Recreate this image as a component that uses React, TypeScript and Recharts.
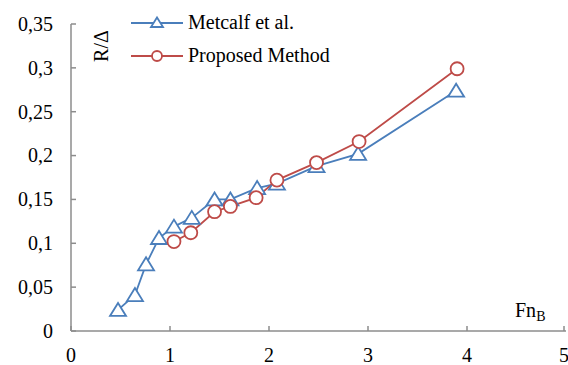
import { LineChart, Line, XAxis, YAxis, Legend } from "recharts";

const metcalfName = "Metcalf et al.";
const proposedName = "Proposed Method";

// Fn_B values and R/Δ values
const metcalfX = [0.475, 0.646, 0.758, 0.889, 1.04, 1.22, 1.45, 1.61, 1.88, 2.08, 2.48, 2.9, 3.89];
const metcalfY = [0.024, 0.041, 0.076, 0.106, 0.119, 0.129, 0.15, 0.15, 0.163, 0.168, 0.188, 0.202, 0.274];
const proposedX = [1.04, 1.21, 1.45, 1.61, 1.87, 2.08, 2.48, 2.91, 3.9];
const proposedY = [0.102, 0.112, 0.136, 0.142, 0.152, 0.172, 0.192, 0.216, 0.299];

const xTicks = [0, 1, 2, 3, 4, 5];
const yTicks = [0, 0.05, 0.1, 0.15, 0.2, 0.25, 0.3, 0.35];

const BLUE = "#4a7ebb";
const RED = "#be4b48";
const AXIS = "#8c8c8c";
const FONT =
  "Tinos, 'Noto Serif', 'Nimbus Roman', 'Nimbus Roman No9 L', FreeSerif, Times, 'DejaVu Serif Condensed', Georgia, serif";

const metcalf = metcalfX.map((x, i) => ({ x, y: metcalfY[i] }));
const proposed = proposedX.map((x, i) => ({ x, y: proposedY[i] }));

function Triangle({ cx, cy, color }: any) {
  if (cx == null || cy == null) return null;
  return (
    <polygon
      points={`${cx},${cy - 7} ${cx - 8},${cy + 6} ${cx + 8},${cy + 6}`}
      fill="#fff"
      stroke={color}
      strokeWidth={1.8}
    />
  );
}

function Circle({ cx, cy, color }: any) {
  if (cx == null || cy == null) return null;
  return <circle cx={cx} cy={cy} r={6.5} fill="#fff" stroke={color} strokeWidth={1.8} />;
}

function YTick({ x, y, payload }: any) {
  return (
    <g>
      <line x1={x + 18} x2={x + 23} y1={y} y2={y} stroke={AXIS} strokeWidth={1.5} />
      <text x={x} y={y} dy="0.34em" textAnchor="end" style={{ fontFamily: FONT }} fontSize={20} fill="#000">
        {String(payload.value).replace(".", ",")}
      </text>
    </g>
  );
}

function XTick({ x, y, payload }: any) {
  return (
    <g>
      <line x1={x} x2={x} y1={y} y2={y - 5} stroke={AXIS} strokeWidth={1.5} />
      <text x={x} y={y + 31} textAnchor="middle" style={{ fontFamily: FONT }} fontSize={20} fill="#000">
        {payload.value}
      </text>
    </g>
  );
}

function LegendBox({ payload }: any) {
  return (
    <div style={{ fontFamily: FONT, fontSize: 20, color: "#000" }}>
      {(payload || []).map((entry: any) => (
        <div key={entry.value} style={{ display: "flex", alignItems: "center", height: 33 }}>
          <svg width={54} height={20}>
            <line x1={0} x2={52} y1={10} y2={10} stroke={entry.color} strokeWidth={1.8} />
            {entry.value === metcalfName ? (
              <polygon points="26,4.5 20,14 32,14" fill="#fff" stroke={entry.color} strokeWidth={1.8} />
            ) : (
              <circle cx={26} cy={10} r={5} fill="#fff" stroke={entry.color} strokeWidth={1.8} />
            )}
          </svg>
          <span style={{ marginLeft: 3, whiteSpace: "nowrap" }}>{entry.value}</span>
        </div>
      ))}
    </div>
  );
}

export default function App() {
  return (
    <div style={{ position: "absolute", left: 0, top: 0, width: 568, height: 365, background: "#fff" }}>
      <LineChart width={568} height={365} margin={{ top: 24, right: 2, left: 0, bottom: 0 }}>
        <XAxis
          type="number"
          dataKey="x"
          domain={[0, 5]}
          ticks={xTicks}
          height={34}
          tickSize={0}
          tickMargin={0}
          tickLine={false}
          tick={<XTick />}
          axisLine={{ stroke: AXIS, strokeWidth: 1.5 }}
          allowDuplicatedCategory={false}
          label={{
            content: ({ viewBox }: any) => (
              <text x={viewBox.x + 444} y={viewBox.y - 14} style={{ fontFamily: FONT }} fontSize={20} fill="#000">
                Fn
                <tspan fontSize={14} dy={4}>B</tspan>
              </text>
            ),
          }}
        />
        <YAxis
          type="number"
          dataKey="y"
          domain={[0, 0.35]}
          ticks={yTicks}
          width={71}
          tickSize={0}
          tickMargin={18}
          tickLine={false}
          tick={<YTick />}
          axisLine={{ stroke: AXIS, strokeWidth: 1.5 }}
          label={{
            content: ({ viewBox }: any) => {
              const cx = viewBox.x + viewBox.width + 30;
              const cy = viewBox.y + 22;
              return (
                <text
                  x={cx}
                  y={cy}
                  dy="0.34em"
                  textAnchor="middle"
                  transform={`rotate(-90 ${cx} ${cy})`}
                  style={{ fontFamily: FONT }}
                  fontSize={20}
                  fill="#000"
                >
                  R/Δ
                </text>
              );
            },
          }}
        />
        <Legend
          layout="vertical"
          align="center"
          verticalAlign="middle"
          wrapperStyle={{ top: 6, left: 131, width: 240 }}
          content={<LegendBox />}
        />
        <Line
          data={metcalf}
          dataKey="y"
          name={metcalfName}
          stroke={BLUE}
          strokeWidth={1.8}
          dot={<Triangle color={BLUE} />}
          activeDot={false}
          isAnimationActive={false}
        />
        <Line
          data={proposed}
          dataKey="y"
          name={proposedName}
          stroke={RED}
          strokeWidth={1.8}
          dot={<Circle color={RED} />}
          activeDot={false}
          isAnimationActive={false}
        />
      </LineChart>
    </div>
  );
}
